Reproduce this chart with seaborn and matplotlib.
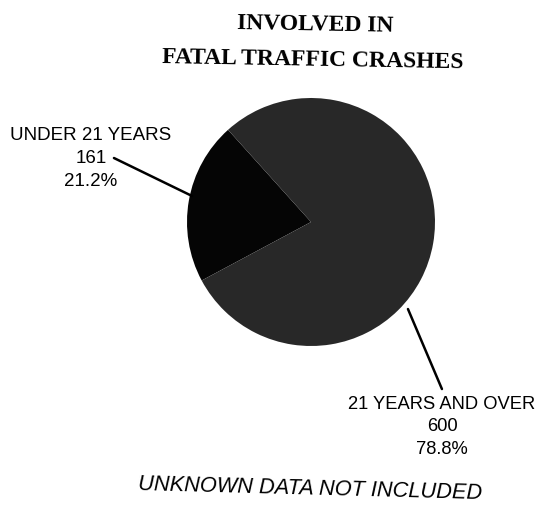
import matplotlib
matplotlib.use("Agg")
import matplotlib.pyplot as plt
import seaborn as sns
import numpy as np

groups = ["UNDER 21 YEARS", "21 YEARS AND OVER"]
counts = [161, 600]
percents = ["21.2%", "78.8%"]
slice_colors = ["#050505", "#282828"]

sns.set_style("white")
plt.rcParams["font.family"] = ["Liberation Sans", "DejaVu Sans"]
plt.rcParams["text.color"] = "black"

fig = plt.figure(figsize=(5.39, 5.06), dpi=100)

# pie axes: center ~ (311, 223) px, radius ~124 px
cx, cy, r = 311 / 539, 1 - 223 / 506, 124
ax = fig.add_axes([cx - r / 539, cy - r / 506, 2 * r / 539, 2 * r / 506])
ax.pie(counts, colors=slice_colors, startangle=132, counterclock=True,
       wedgeprops=dict(linewidth=0))
ax.set_xlim(-1, 1)
ax.set_ylim(-1, 1)
ax.set_aspect("equal")
ax.axis("off")

# leader lines and labels (data coords of pie axes)
ax.plot([-1.589, -0.960], [0.516, 0.210], color="black", lw=1.8, clip_on=False)
ax.plot([0.782, 1.056], [-0.702, -1.347], color="black", lw=1.8, clip_on=False)

ax.text(-1.774, 0.52, f"{groups[0]}\n{counts[0]}\n{percents[0]}",
        ha="center", va="center", fontsize=13.5, linespacing=1.45, color="black")
ax.text(1.056, -1.645, f"{groups[1]}\n{counts[1]}\n{percents[1]}",
        ha="center", va="center", fontsize=13.2, linespacing=1.4, color="black")

fig.text(315 / 539, 1 - 25 / 506, "INVOLVED IN", ha="center", va="center",
         family="Liberation Serif", fontweight="bold", fontsize=17, rotation=-1,
         color="black")
fig.text(313 / 539, 1 - 60 / 506, "FATAL TRAFFIC CRASHES", ha="center", va="center",
         family="Liberation Serif", fontweight="bold", fontsize=17, rotation=-1,
         color="black")

fig.text(310 / 539, 1 - 489 / 506, "UNKNOWN DATA NOT INCLUDED", ha="center", va="center",
         fontstyle="italic", fontsize=15.7, rotation=-1.5, color="black")

fig.savefig("out.png", dpi=100)
